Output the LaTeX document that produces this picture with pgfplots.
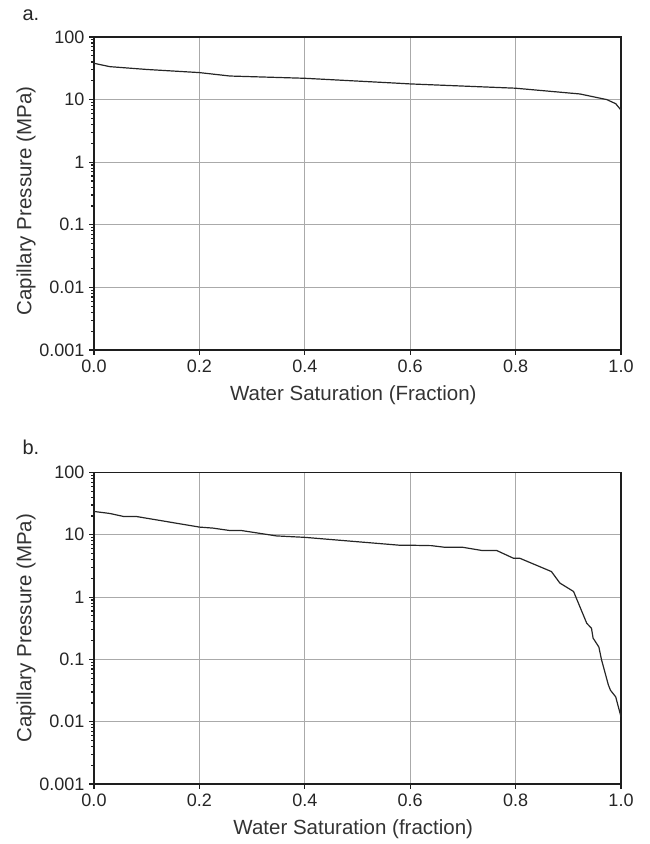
\documentclass[border=0pt]{standalone}
\usepackage{fontspec}
\setmainfont{Liberation Sans}
\usepackage{pgfplots}
\pgfplotsset{compat=1.18}
\definecolor{gridgray}{RGB}{170,170,170}
\definecolor{axisblack}{RGB}{30,30,30}
\pgfplotsset{
  capstyle/.style={
    scale only axis,
    width=527pt,
    xmin=0, xmax=1, ymin=0.001, ymax=100,
    xtick={0,0.2,0.4,0.6,0.8,1.0},
    xticklabels={0.0,0.2,0.4,0.6,0.8,1.0},
    ytick={0.001,0.01,0.1,1,10,100},
    yticklabels={0.001,0.01,0.1,1,10,100},
    minor ytick={},
    grid=major,
    major grid style={draw=gridgray, line width=1.1pt},
    axis line style={draw=axisblack, line width=1.8pt},
    tick style={draw=axisblack, line width=1.2pt},
    tick align=outside,
    major tick length=5pt,
    xtick pos=bottom, ytick pos=left,
    ticklabel style={font=\fontsize{18}{18}\selectfont, text=black!85},
    yticklabel style={xshift=-1pt},
    xticklabel style={yshift=-1pt},
    label style={font=\fontsize{20.5}{20.5}\selectfont, text=black!80},
    xlabel style={at={(axis description cs:0.492,0)}, anchor=center, yshift=-45pt},
  },
  curve/.style={draw=black!85, line width=1.2pt, mark=none},
}
\begin{document}
\begin{tikzpicture}
\useasboundingbox (0pt,0pt) rectangle (649pt,844pt);
% panel a
\begin{semilogyaxis}[capstyle, at={(94pt,494pt)}, anchor=south west, height=313pt,
  xlabel={Water Saturation (Fraction)},
  ylabel={Capillary Pressure (MPa)},
  ylabel style={at={(axis description cs:-0.129,0.476)}, anchor=center, rotate=0},
]
\addplot[curve] coordinates {
(0,38) (0.03,33.6) (0.1,30.3) (0.2,27) (0.258,23.8) (0.4,21.9) (0.58,18.2)
(0.6,17.8) (0.8,15.2) (0.922,12.3) (0.973,10) (0.99,8.6) (1.0,6.8)
};
\end{semilogyaxis}
% panel b
\begin{semilogyaxis}[capstyle, at={(94pt,60pt)}, anchor=south west, height=311.5pt,
  xlabel={Water Saturation (fraction)},
  ylabel={Capillary Pressure (MPa)},
  ylabel style={at={(axis description cs:-0.129,0.5)}, anchor=center, rotate=0},
]
\addplot[curve] coordinates {
(0,23.7) (0.03,22) (0.056,19.7) (0.08,19.7) (0.2,13.3) (0.226,12.8) (0.258,11.7)
(0.28,11.7) (0.346,9.6) (0.4,9.1) (0.58,6.8) (0.6,6.8) (0.64,6.7) (0.666,6.3)
(0.70,6.3) (0.736,5.6) (0.764,5.6) (0.796,4.2) (0.808,4.2) (0.868,2.57)
(0.884,1.68) (0.91,1.23) (0.935,0.38) (0.944,0.316) (0.947,0.22) (0.958,0.158)
(0.963,0.099) (0.976,0.039) (0.98,0.032) (0.99,0.025) (0.993,0.02) (1.0,0.012)
};
\end{semilogyaxis}
\node[anchor=base west, font=\fontsize{20}{20}\selectfont, text=black!85] at (19pt,823.5pt) {a.};
\node[anchor=base west, font=\fontsize{20}{20}\selectfont, text=black!85] at (19pt,389pt) {b.};
\end{tikzpicture}
\end{document}
